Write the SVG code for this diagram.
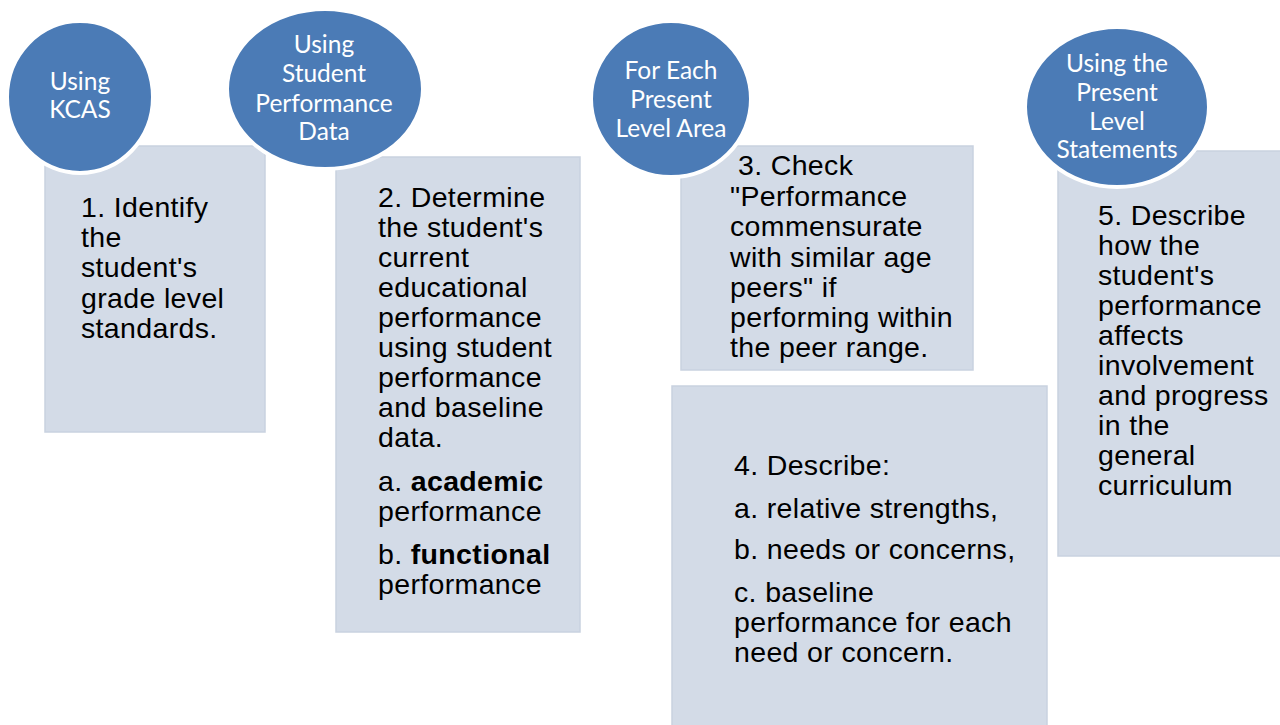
<svg xmlns="http://www.w3.org/2000/svg" width="1280" height="725" viewBox="0 0 1280 725">
<style>
.box{fill:#D3DBE7;stroke:#C9D2E0;stroke-width:1.5}
.circ{fill:#4B7BB6;stroke:#FFFFFF;stroke-width:4}
.t{font-family:"Liberation Sans",Arial,sans-serif;font-size:28.5px;letter-spacing:0.35px;fill:#000}
.b{font-weight:bold}
.c{font-family:Lato,"Open Sans",sans-serif;font-size:24.5px;fill:#FFFFFF;text-anchor:middle}
</style>
<rect width="1280" height="725" fill="#FFFFFF"/>
<g id="connectors"></g>
<g id="step1">
<rect class="box" x="45" y="146" width="220" height="286"/>
<text class="t" x="81"><tspan x="81" y="217">1. Identify</tspan><tspan x="81" y="247">the</tspan><tspan x="81" y="277">student's</tspan><tspan x="81" y="308">grade level</tspan><tspan x="81" y="338">standards.</tspan></text>
</g>
<g id="circle1">
<ellipse class="circ" cx="80" cy="97" rx="73" ry="76"/>
<text class="c"><tspan x="80" y="90">Using</tspan><tspan x="80" y="118">KCAS</tspan></text>
</g>
<g id="step2">
<rect class="box" x="336" y="157" width="244" height="475"/>
<text class="t"><tspan x="378" y="207">2. Determine</tspan><tspan x="378" y="237">the student's</tspan><tspan x="378" y="267">current</tspan><tspan x="378" y="297">educational</tspan><tspan x="378" y="327">performance</tspan><tspan x="378" y="357">using student</tspan><tspan x="378" y="387">performance</tspan><tspan x="378" y="417">and baseline</tspan><tspan x="378" y="447">data.</tspan></text>
<text class="t" x="378" y="491">a. <tspan class="b">academic</tspan></text>
<text class="t" x="378" y="521">performance</text>
<text class="t" x="378" y="564">b. <tspan class="b">functional</tspan></text>
<text class="t" x="378" y="594">performance</text>
</g>
<g id="circle2">
<ellipse class="circ" cx="325" cy="89" rx="98" ry="80"/>
<text class="c"><tspan x="324" y="53">Using</tspan><tspan x="324" y="82">Student</tspan><tspan x="324" y="112">Performance</tspan><tspan x="324" y="140">Data</tspan></text>
</g>
<g id="step3">
<rect class="box" x="681" y="146" width="292" height="224"/>
<text class="t"><tspan x="738" y="175">3. Check</tspan><tspan x="730" y="206">"Performance</tspan><tspan x="730" y="236">commensurate</tspan><tspan x="730" y="267">with similar age</tspan><tspan x="730" y="297">peers" if</tspan><tspan x="730" y="327">performing within</tspan><tspan x="730" y="357">the peer range.</tspan></text>
</g>
<g id="circle3">
<ellipse class="circ" cx="671" cy="99" rx="80" ry="78"/>
<text class="c"><tspan x="671" y="79">For Each</tspan><tspan x="671" y="108">Present</tspan><tspan x="671" y="137">Level Area</tspan></text>
</g>
<g id="step4">
<rect class="box" x="672" y="386" width="375" height="345"/>
<text class="t"><tspan x="734" y="475">4. Describe:</tspan><tspan x="734" y="518">a. relative strengths,</tspan><tspan x="734" y="559">b. needs or concerns,</tspan><tspan x="734" y="602">c. baseline</tspan><tspan x="734" y="632">performance for each</tspan><tspan x="734" y="662">need or concern.</tspan></text>
</g>
<g id="step5">
<rect class="box" x="1058" y="151" width="230" height="405"/>
<text class="t"><tspan x="1098" y="225">5. Describe</tspan><tspan x="1098" y="255">how the</tspan><tspan x="1098" y="285">student's</tspan><tspan x="1098" y="315">performance</tspan><tspan x="1098" y="345">affects</tspan><tspan x="1098" y="375">involvement</tspan><tspan x="1098" y="405">and progress</tspan><tspan x="1098" y="435">in the</tspan><tspan x="1098" y="465">general</tspan><tspan x="1098" y="495">curriculum</tspan></text>
</g>
<g id="circle4">
<ellipse class="circ" cx="1117" cy="107" rx="92" ry="80"/>
<text class="c"><tspan x="1117" y="72">Using the</tspan><tspan x="1117" y="101">Present</tspan><tspan x="1117" y="130">Level</tspan><tspan x="1117" y="158">Statements</tspan></text>
</g>
</svg>
